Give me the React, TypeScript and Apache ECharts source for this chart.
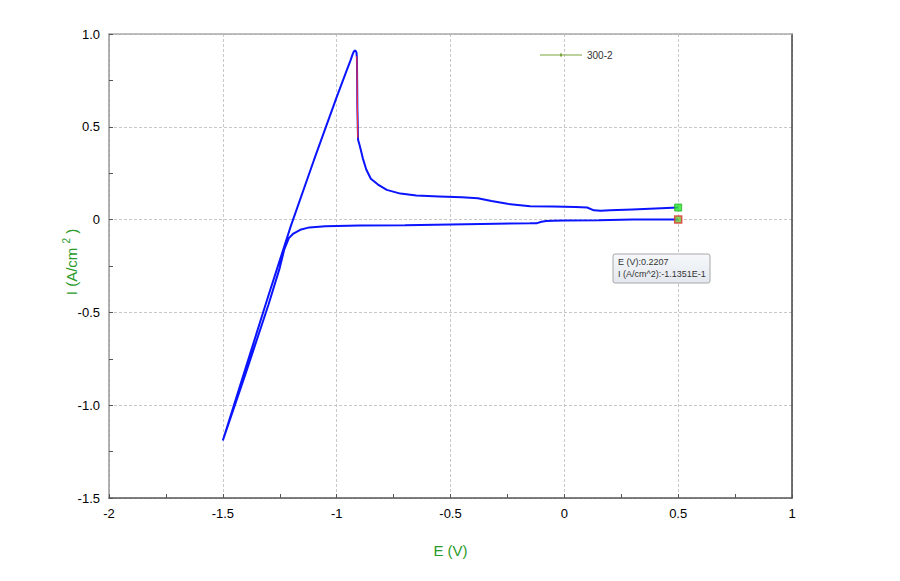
import React, { useEffect, useRef } from "react";
import * as echarts from "echarts";

const xTicks = [-2, -1.5, -1, -0.5, 0, 0.5, 1];
const yTicks = [-1.5, -1.0, -0.5, 0, 0.5, 1.0];

// Forward scan: 0.5 V -> -1.5 V
const forwardE = [0.5, 0.3, 0.15, 0.0, -0.05, -0.08, -0.1, -0.12, -0.15, -0.3, -0.5, -0.7, -0.9, -1.05, -1.12, -1.16, -1.19, -1.21, -1.23, -1.25, -1.3, -1.4, -1.5];
const forwardI = [0.0, 0.0, -0.003, -0.005, -0.006, -0.008, -0.012, -0.019, -0.02, -0.022, -0.026, -0.03, -0.032, -0.036, -0.042, -0.055, -0.075, -0.1, -0.16, -0.26, -0.46, -0.83, -1.19];

// Reverse scan: -1.5 V -> 0.5 V
const reverseE = [-1.5, -1.4, -1.3, -1.25, -1.2, -1.1, -1.0, -0.96, -0.94, -0.93, -0.925, -0.918, -0.913, -0.911, -0.91, -0.909, -0.906, -0.9, -0.895, -0.885, -0.87, -0.85, -0.82, -0.78, -0.72, -0.65, -0.55, -0.45, -0.38, -0.32, -0.25, -0.15, -0.05, 0.05, 0.1, 0.13, 0.16, 0.2, 0.3, 0.4, 0.5];
const reverseI = [-1.19, -0.8, -0.41, -0.22, -0.03, 0.32, 0.66, 0.79, 0.855, 0.89, 0.905, 0.912, 0.9, 0.87, 0.75, 0.6, 0.43, 0.405, 0.38, 0.33, 0.27, 0.22, 0.19, 0.16, 0.14, 0.13, 0.125, 0.12, 0.115, 0.1, 0.085, 0.072, 0.07, 0.068, 0.065, 0.05, 0.048, 0.05, 0.055, 0.06, 0.065];

// Red highlighted segment on the current drop
const dropE = [-0.912, -0.911, -0.91, -0.909, -0.907];
const dropI = [0.88, 0.85, 0.75, 0.6, 0.44];

const seriesName = "300-2";
const cursorE = 0.2207;
const cursorI = "-1.1351E-1";

export default function App() {
  const ref = useRef<HTMLDivElement>(null);
  useEffect(() => {
    if (!ref.current) return;
    const chart = echarts.init(ref.current, null, { renderer: "svg" });
    const curve = [
      ...forwardE.map((e, i) => [e, forwardI[i]]),
      ...reverseE.map((e, i) => [e, reverseI[i]]),
    ];
    const drop = dropE.map((e, i) => [e, dropI[i]]);
    const font = "Liberation Sans, Arial, sans-serif";
    const green = "#2a9a2a";
    const gridLine = { show: true, lineStyle: { color: "#c8c8c8", type: [3, 2] as any, width: 1 } };
    chart.setOption({
      animation: false,
      textStyle: { fontFamily: font },
      grid: { left: 109, right: 108, top: 34, bottom: 83, show: true, borderColor: "transparent" },
      legend: {
        left: 535,
        top: 45,
        itemWidth: 42,
        itemHeight: 10,
        itemGap: 5,
        textStyle: { fontSize: 10, color: "#333", fontFamily: font },
        data: [
          {
            name: seriesName,
            icon: "path://M0,4.6H42V5.4H0Z M20,3.6H22V6.4H20Z",
            itemStyle: { color: "#7aa63c" },
          },
        ],
      },
      xAxis: [
        {
          type: "value",
          min: -2,
          max: 1,
          interval: 0.5,
          name: "E (V)",
          nameLocation: "middle",
          nameGap: 45,
          nameTextStyle: { color: green, fontSize: 15, fontFamily: font },
          axisLine: { show: true, onZero: false, lineStyle: { color: "#555", width: 1.5 } },
          axisTick: { show: true, inside: true, length: 4, lineStyle: { color: "#555" } },
          minorTick: { show: true, splitNumber: 2, length: 4, lineStyle: { color: "#555" } },
          axisLabel: {
            color: "#000",
            fontSize: 13,
            margin: 9,
            formatter: (v: number) => (xTicks.includes(v) ? String(v) : ""),
          },
          splitLine: gridLine,
        },
        {
          type: "value",
          position: "top",
          min: -2,
          max: 1,
          axisLine: { show: true, onZero: false, lineStyle: { color: "#aaa", width: 1.5 } },
          axisTick: { show: false },
          axisLabel: { show: false },
          splitLine: { show: false },
        },
      ],
      yAxis: [
        {
          type: "value",
          min: -1.5,
          max: 1.0,
          interval: 0.5,
          axisLine: { show: true, onZero: false, lineStyle: { color: "#999", width: 1.5 } },
          axisTick: { show: true, inside: true, length: 4, lineStyle: { color: "#555" } },
          minorTick: { show: true, splitNumber: 2, length: 4, lineStyle: { color: "#555" } },
          axisLabel: {
            color: "#000",
            fontSize: 13,
            margin: 9,
            formatter: (v: number) => {
              if (!yTicks.includes(v)) return "";
              return v === 0 ? "0" : v.toFixed(1);
            },
          },
          splitLine: gridLine,
        },
        {
          type: "value",
          position: "right",
          min: -1.5,
          max: 1.0,
          axisLine: { show: true, onZero: false, lineStyle: { color: "#444", width: 1.5 } },
          axisTick: { show: false },
          axisLabel: { show: false },
          splitLine: { show: false },
        },
      ],
      series: [
        {
          name: seriesName,
          type: "line",
          data: curve,
          showSymbol: false,
          symbol: "none",
          lineStyle: { color: "#0a14ff", width: 2 },
          itemStyle: { color: "#0a14ff" },
          z: 2,
        },
        {
          name: "drop",
          type: "line",
          data: drop,
          showSymbol: false,
          symbol: "none",
          lineStyle: { color: "#ff3030", width: 1.2 },
          z: 3,
        },
        {
          name: "endUpper",
          type: "scatter",
          symbol: "rect",
          symbolSize: 7,
          data: [[reverseE[reverseE.length - 1], reverseI[reverseI.length - 1]]],
          itemStyle: { color: "#2ee62e", borderColor: "#1fb01f", borderWidth: 1 },
          z: 4,
        },
        {
          name: "endLower",
          type: "scatter",
          symbol: "rect",
          symbolSize: 7,
          data: [[forwardE[0], forwardI[0]]],
          itemStyle: { color: "#6ec83a", borderColor: "#e03030", borderWidth: 1.5 },
          z: 4,
        },
      ],
      graphic: [
        {
          type: "text",
          x: 71,
          y: 262,
          rotation: Math.PI / 2,
          style: {
            text: "I (A/cm {s|2} )",
            fill: green,
            font: "15px " + font,
            align: "center",
            verticalAlign: "middle",
            rich: {
              s: { fontSize: 10, fill: green, padding: [0, 0, 9, 0], fontFamily: font },
            },
          },
          z: 5,
        },
        {
          type: "rect",
          shape: { x: 613, y: 254, width: 97, height: 29, r: 2 },
          style: {
            fill: new echarts.graphic.LinearGradient(0, 0, 0, 1, [
              { offset: 0, color: "#f6f8fb" },
              { offset: 1, color: "#e4e8ee" },
            ]),
            stroke: "#a8a8a8",
            lineWidth: 1,
          },
          z: 10,
        },
        {
          type: "text",
          x: 618,
          y: 257,
          style: { text: "E (V):" + cursorE, fill: "#333", font: "9px " + font },
          z: 11,
        },
        {
          type: "text",
          x: 618,
          y: 269,
          style: { text: "I (A/cm^2):" + cursorI, fill: "#333", font: "9px " + font },
          z: 11,
        },
      ],
    });
    return () => chart.dispose();
  }, []);
  return <div ref={ref} style={{ width: 900, height: 581, position: "absolute", left: 0, top: 0 }} />;
}
